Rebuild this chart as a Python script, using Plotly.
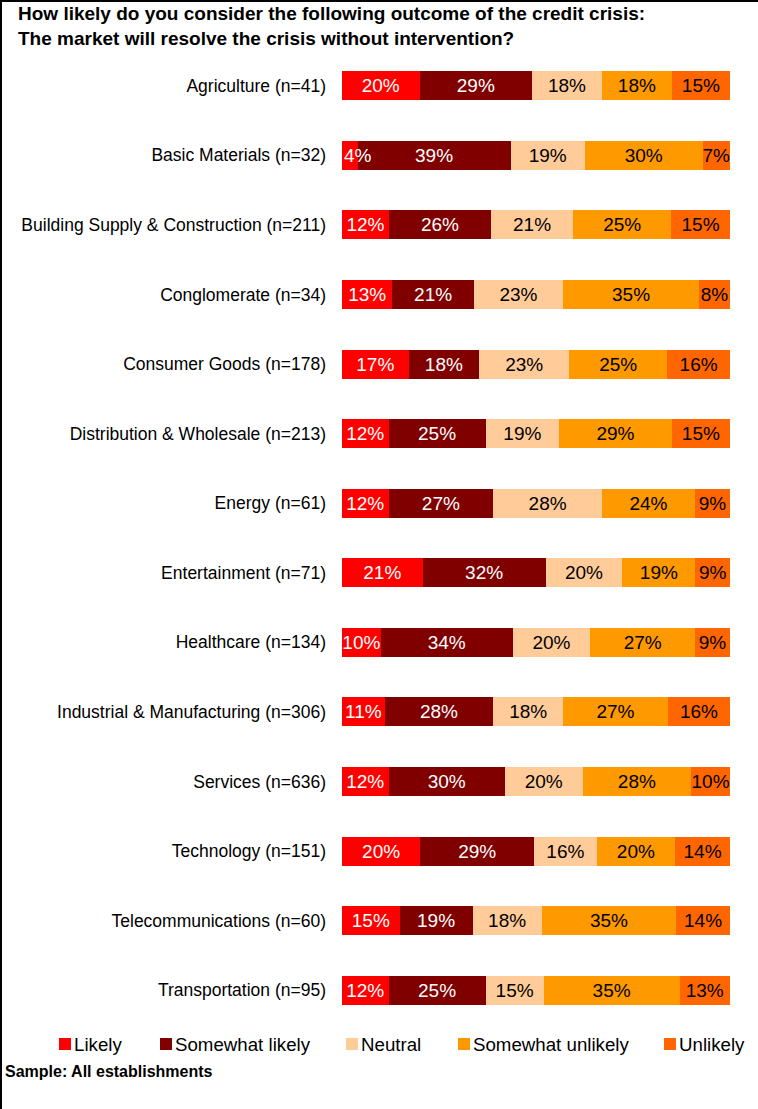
import plotly.graph_objects as go

# Survey sectors (sample size in parentheses)
categories = [
    "Agriculture (n=41)",
    "Basic Materials (n=32)",
    "Building Supply & Construction (n=211)",
    "Conglomerate (n=34)",
    "Consumer Goods (n=178)",
    "Distribution & Wholesale (n=213)",
    "Energy (n=61)",
    "Entertainment (n=71)",
    "Healthcare (n=134)",
    "Industrial & Manufacturing (n=306)",
    "Services (n=636)",
    "Technology (n=151)",
    "Telecommunications (n=60)",
    "Transportation (n=95)",
]

# Share of answers per sector, in percent
likely = [20, 4, 12, 13, 17, 12, 12, 21, 10, 11, 12, 20, 15, 12]
somewhat_likely = [29, 39, 26, 21, 18, 25, 27, 32, 34, 28, 30, 29, 19, 25]
neutral = [18, 19, 21, 23, 23, 19, 28, 20, 20, 18, 20, 16, 18, 15]
somewhat_unlikely = [18, 30, 25, 35, 25, 29, 24, 19, 27, 27, 28, 20, 35, 35]
unlikely = [15, 7, 15, 8, 16, 15, 9, 9, 9, 16, 10, 14, 14, 13]

series_names = ["Likely", "Somewhat likely", "Neutral", "Somewhat unlikely", "Unlikely"]
series_values = [likely, somewhat_likely, neutral, somewhat_unlikely, unlikely]
series_colors = ["#FF0000", "#800000", "#FFCC99", "#FF9900", "#FF6600"]
label_colors = ["#FFFFFF", "#FFFFFF", "#000000", "#000000", "#000000"]

FONT = "Liberation Sans, Arial, Helvetica, sans-serif"
VALUE_SIZE = 19
W, H = 758, 1109
ML, MR, MT, MB = 342, 28, 51, 84
PW, PH = W - ML - MR, H - MT - MB


def px_x(px):
    """Horizontal pixel position -> paper coordinate."""
    return (px - ML) / PW


def px_y(py):
    """Vertical pixel position (from top) -> paper coordinate."""
    return (H - MB - py) / PH


# Segments too narrow for their label get it left-aligned at the bar start
NARROW = 6

fig = go.Figure()
annotations = []
for idx, (name, vals, color, tcolor) in enumerate(
        zip(series_names, series_values, series_colors, label_colors)):
    texts = []
    for cat, v in zip(categories, vals):
        if idx == 0 and v < NARROW:
            texts.append("")
            annotations.append(dict(
                xref="x", yref="y", x=0, y=cat, xshift=0,
                xanchor="left", yanchor="middle",
                text=f"{v}%", showarrow=False,
                font=dict(family=FONT, size=VALUE_SIZE, color=tcolor),
            ))
        else:
            texts.append(f"{v}%")
    fig.add_trace(go.Bar(
        name=name,
        y=categories,
        x=vals,
        orientation="h",
        marker=dict(color=color, line=dict(width=0)),
        text=texts,
        texttemplate="%{text}",
        textposition="inside",
        insidetextanchor="middle",
        textangle=0,
        textfont=dict(family=FONT, size=VALUE_SIZE, color=tcolor),
        showlegend=False,
        hoverinfo="skip",
    ))

shapes = [
    # frame lines (left and top)
    dict(type="line", xref="paper", yref="paper",
         x0=px_x(1), x1=px_x(1), y0=px_y(0), y1=px_y(H),
         line=dict(color="#000000", width=2)),
    dict(type="line", xref="paper", yref="paper",
         x0=px_x(0), x1=px_x(W), y0=px_y(1), y1=px_y(1),
         line=dict(color="#000000", width=2)),
]

# Legend drawn as colour keys with labels
legend_key_x = [59, 160, 346, 458, 664]
legend_y = 1044
for name, color, kx in zip(series_names, series_colors, legend_key_x):
    shapes.append(dict(
        type="rect", xref="paper", yref="paper",
        x0=px_x(kx), x1=px_x(kx + 12),
        y0=px_y(legend_y + 6), y1=px_y(legend_y - 6),
        fillcolor=color, line=dict(width=0),
    ))
    annotations.append(dict(
        xref="paper", yref="paper",
        x=px_x(kx + 13), y=px_y(legend_y),
        xanchor="left", yanchor="middle",
        text=name, showarrow=False,
        font=dict(family=FONT, size=18.7, color="#000000"),
    ))

annotations.append(dict(
    xref="paper", yref="paper",
    x=px_x(3), y=px_y(1071),
    xanchor="left", yanchor="middle",
    text="<b>Sample: All establishments</b>", showarrow=False,
    font=dict(family=FONT, size=16, color="#000000"),
))

# Chart title (two lines)
annotations.append(dict(
    xref="paper", yref="paper",
    x=px_x(16), y=px_y(1),
    xanchor="left", yanchor="top", align="left",
    text="<b>How likely do you consider the following outcome of the credit crisis:<br>"
         "The market will resolve the crisis without intervention?</b>",
    showarrow=False,
    font=dict(family=FONT, size=19, color="#000000"),
))

fig.update_layout(
    width=W, height=H,
    margin=dict(l=ML, r=MR, t=MT, b=MB, pad=0),
    barmode="stack",
    barnorm="percent",
    bargap=0.583,
    paper_bgcolor="#FFFFFF",
    plot_bgcolor="#FFFFFF",
    font=dict(family=FONT, color="#000000"),
    xaxis=dict(range=[0, 100], visible=False, showgrid=False, zeroline=False, fixedrange=True),
    yaxis=dict(
        type="category",
        categoryorder="array",
        categoryarray=categories,
        autorange="reversed",
        showgrid=False, zeroline=False, showline=False,
        ticks="",
        ticklabelstandoff=15,
        tickfont=dict(family=FONT, size=17.5, color="#000000"),
    ),
    uniformtext=dict(minsize=VALUE_SIZE, mode="show"),
    shapes=shapes,
    annotations=annotations,
)

fig.write_html("out.html")
